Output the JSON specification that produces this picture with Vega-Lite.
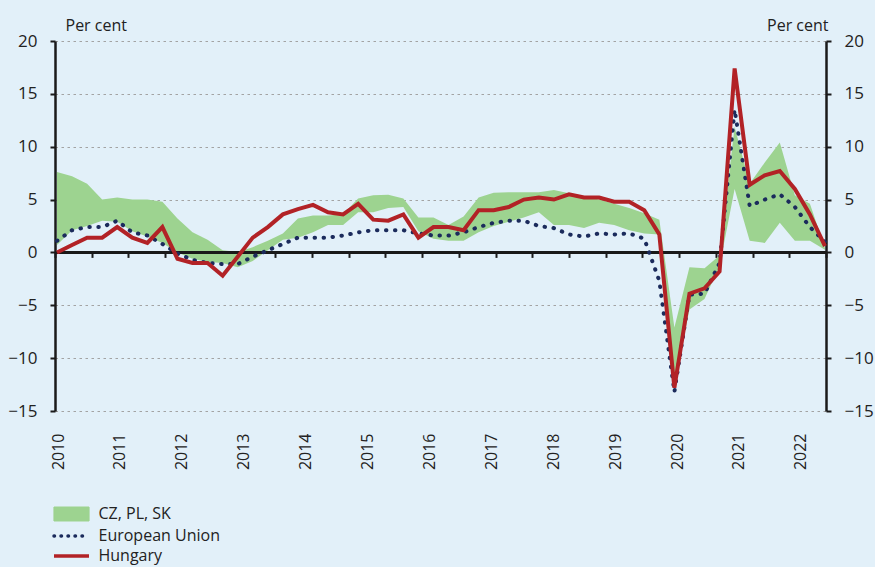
{
  "$schema": "https://vega.github.io/schema/vega-lite/v6.json",
  "width": 771,
  "height": 370,
  "autosize": {"type": "none"},
  "padding": {"left": 55, "top": 41, "right": 49, "bottom": 156},
  "background": "#e2f0f9",
  "config": {"view": {"stroke": null}, "font": "Open Sans"},
  "data": {"values": [
    {"t": 2010.00, "lo": 0.7, "hi": 7.6, "eu": 1.1, "hu": 0.0},
    {"t": 2010.25, "lo": 2.1, "hi": 7.2, "eu": 2.1, "hu": 0.7},
    {"t": 2010.50, "lo": 2.5, "hi": 6.5, "eu": 2.4, "hu": 1.4},
    {"t": 2010.75, "lo": 3.0, "hi": 5.0, "eu": 2.4, "hu": 1.4},
    {"t": 2011.00, "lo": 2.9, "hi": 5.2, "eu": 3.0, "hu": 2.4},
    {"t": 2011.25, "lo": 2.0, "hi": 5.0, "eu": 1.9, "hu": 1.4},
    {"t": 2011.50, "lo": 1.5, "hi": 5.0, "eu": 1.6, "hu": 0.9},
    {"t": 2011.75, "lo": 0.9, "hi": 4.8, "eu": 0.8, "hu": 2.4},
    {"t": 2012.00, "lo": 0.0, "hi": 3.2, "eu": -0.1, "hu": -0.6},
    {"t": 2012.25, "lo": -0.6, "hi": 1.9, "eu": -0.7, "hu": -1.0},
    {"t": 2012.50, "lo": -0.9, "hi": 1.2, "eu": -1.0, "hu": -1.0},
    {"t": 2012.75, "lo": -1.0, "hi": 0.2, "eu": -1.1, "hu": -2.2},
    {"t": 2013.00, "lo": -1.4, "hi": 0.05, "eu": -1.1, "hu": -0.4},
    {"t": 2013.25, "lo": -0.8, "hi": 0.5, "eu": -0.4, "hu": 1.4},
    {"t": 2013.50, "lo": 0.2, "hi": 1.1, "eu": 0.2, "hu": 2.4},
    {"t": 2013.75, "lo": 1.2, "hi": 1.8, "eu": 0.8, "hu": 3.6},
    {"t": 2014.00, "lo": 1.4, "hi": 3.2, "eu": 1.4, "hu": 4.1},
    {"t": 2014.25, "lo": 1.9, "hi": 3.5, "eu": 1.4, "hu": 4.5},
    {"t": 2014.50, "lo": 2.6, "hi": 3.5, "eu": 1.4, "hu": 3.8},
    {"t": 2014.75, "lo": 2.6, "hi": 3.6, "eu": 1.6, "hu": 3.6},
    {"t": 2015.00, "lo": 3.8, "hi": 5.1, "eu": 1.9, "hu": 4.6},
    {"t": 2015.25, "lo": 3.8, "hi": 5.4, "eu": 2.1, "hu": 3.1},
    {"t": 2015.50, "lo": 4.2, "hi": 5.45, "eu": 2.1, "hu": 3.0},
    {"t": 2015.75, "lo": 4.3, "hi": 5.1, "eu": 2.1, "hu": 3.6},
    {"t": 2016.00, "lo": 2.0, "hi": 3.3, "eu": 1.8, "hu": 1.4},
    {"t": 2016.25, "lo": 1.3, "hi": 3.3, "eu": 1.6, "hu": 2.4},
    {"t": 2016.50, "lo": 1.1, "hi": 2.6, "eu": 1.6, "hu": 2.4},
    {"t": 2016.75, "lo": 1.1, "hi": 3.4, "eu": 1.9, "hu": 2.1},
    {"t": 2017.00, "lo": 1.9, "hi": 5.2, "eu": 2.4, "hu": 4.0},
    {"t": 2017.25, "lo": 2.5, "hi": 5.65, "eu": 2.8, "hu": 4.0},
    {"t": 2017.50, "lo": 2.9, "hi": 5.7, "eu": 3.0, "hu": 4.3},
    {"t": 2017.75, "lo": 3.3, "hi": 5.7, "eu": 3.0, "hu": 5.0},
    {"t": 2018.00, "lo": 3.8, "hi": 5.7, "eu": 2.5, "hu": 5.2},
    {"t": 2018.25, "lo": 2.6, "hi": 5.9, "eu": 2.3, "hu": 5.0},
    {"t": 2018.50, "lo": 2.6, "hi": 5.6, "eu": 1.7, "hu": 5.5},
    {"t": 2018.75, "lo": 2.3, "hi": 5.3, "eu": 1.5, "hu": 5.2},
    {"t": 2019.00, "lo": 2.8, "hi": 5.0, "eu": 1.8, "hu": 5.2},
    {"t": 2019.25, "lo": 2.6, "hi": 4.6, "eu": 1.7, "hu": 4.8},
    {"t": 2019.50, "lo": 2.1, "hi": 4.2, "eu": 1.8, "hu": 4.8},
    {"t": 2019.75, "lo": 1.8, "hi": 3.7, "eu": 1.3, "hu": 4.0},
    {"t": 2020.00, "lo": 1.7, "hi": 3.1, "eu": -2.7, "hu": 1.7},
    {"t": 2020.25, "lo": -12.5, "hi": -7.1, "eu": -13.2, "hu": -12.8},
    {"t": 2020.50, "lo": -5.4, "hi": -1.4, "eu": -4.0, "hu": -3.9},
    {"t": 2020.75, "lo": -4.4, "hi": -1.5, "eu": -3.9, "hu": -3.4},
    {"t": 2021.00, "lo": -1.3, "hi": -0.3, "eu": -1.0, "hu": -1.8},
    {"t": 2021.25, "lo": 6.0, "hi": 11.9, "eu": 13.5, "hu": 17.4},
    {"t": 2021.50, "lo": 1.1, "hi": 6.5, "eu": 4.4, "hu": 6.4},
    {"t": 2021.75, "lo": 0.9, "hi": 8.5, "eu": 5.0, "hu": 7.3},
    {"t": 2022.00, "lo": 2.8, "hi": 10.4, "eu": 5.5, "hu": 7.7},
    {"t": 2022.25, "lo": 1.1, "hi": 5.4, "eu": 4.3, "hu": 6.0},
    {"t": 2022.50, "lo": 1.1, "hi": 4.6, "eu": 2.4, "hu": 3.6},
    {"t": 2022.75, "lo": 0.25, "hi": 0.4, "eu": 1.0, "hu": 0.6}
  ]},
  "layer": [
    {
      "mark": {"type": "area", "opacity": 1},
      "encoding": {
        "x": {"field": "t", "type": "quantitative",
          "scale": {"domain": [2009.967, 2022.767], "nice": false, "zero": false},
          "axis": {"orient": "bottom", "title": null, "grid": false, "domain": false, "ticks": false,
            "values": [2010.017, 2011.045, 2012.072, 2013.1, 2014.128, 2015.155, 2016.183, 2017.211, 2018.239, 2019.266, 2020.294, 2021.322, 2022.35],
            "labelExpr": "floor(datum.value)", "labelAngle": 270, "labelAlign": "right", "labelBaseline": "middle",
            "labelPadding": 22, "labelFontSize": 16, "labelColor": "#222222", "labelFlush": false, "labelOverlap": false}},
        "y": {"field": "lo", "type": "quantitative",
          "scale": {"domain": [-15, 20], "nice": false, "zero": false},
          "axis": {"orient": "left", "values": [-15, -10, -5, 0, 5, 10, 15, 20],
            "grid": true, "gridColor": "#a3a3a3", "gridDash": [2.5, 3.5], "gridWidth": 1,
            "domainColor": "#1a1a1a", "domainWidth": 2.5, "tickColor": "#1a1a1a", "tickWidth": 2, "tickSize": 5,
            "labelFontSize": 17, "labelPadding": 13, "labelColor": "#222222",
            "title": "Per cent", "titleAngle": 0, "titleAlign": "left", "titleBaseline": "alphabetic",
            "titleX": 10, "titleY": -11, "titleFontSize": 16, "titleFontWeight": "normal", "titleColor": "#222222"}},
        "y2": {"field": "hi"},
        "color": {"datum": "CZ, PL, SK", "type": "nominal",
          "scale": {"domain": ["CZ, PL, SK", "European Union", "Hungary"], "range": ["#9dd390", "#1b2b5c", "#b22226"]},
          "legend": {"orient": "none", "legendX": 8.5, "legendY": 465, "title": null, "direction": "vertical",
            "padding": 0, "labelFontSize": 16, "labelColor": "#222222", "labelOffset": 19, "rowPadding": 4,
            "symbolSize": 196,
            "encode": {"symbols": {"update": {
              "shape": {"signal": "datum.value === 'CZ, PL, SK' ? 'M-2.5,-1H2.5V1H-2.5Z' : 'M-2.5,0H2.5'"},
              "size": {"value": 196},
              "fill": {"signal": "datum.value === 'CZ, PL, SK' ? '#9dd390' : 'transparent'"},
              "stroke": {"signal": "datum.value === 'CZ, PL, SK' ? '#333333' : (datum.value === 'European Union' ? '#1b2b5c' : '#b22226')"},
              "strokeWidth": {"signal": "datum.value === 'CZ, PL, SK' ? 1.2 : 3.5"},
              "strokeDash": {"signal": "datum.value === 'European Union' ? [0.5, 6.5] : [1, 0]"},
              "strokeCap": {"signal": "datum.value === 'European Union' ? 'round' : 'butt'"},
              "opacity": {"value": 1}
            }}}}}
      }
    },
    {
      "mark": {"type": "rule", "color": "#1a1a1a", "strokeWidth": 2.5},
      "encoding": {"y": {"datum": 0, "type": "quantitative", "scale": {"domain": [-15, 20], "nice": false, "zero": false}, "axis": null}}
    },
    {
      "mark": {"type": "line", "strokeWidth": 4, "strokeDash": [0.5, 8.5], "strokeCap": "round"},
      "encoding": {
        "x": {"field": "t", "type": "quantitative",
          "scale": {"domain": [2009.967, 2022.767], "nice": false, "zero": false},
          "axis": {"orient": "bottom", "offset": -158.6, "title": null, "grid": false, "domain": false, "labels": false,
            "ticks": true, "tickSize": 5, "tickWidth": 2, "tickColor": "#1a1a1a",
            "values": [2009.967, 2010.5765, 2011.186, 2011.7956, 2012.4051, 2013.0146, 2013.6241, 2014.2337, 2014.8432, 2015.4527, 2016.0622, 2016.6718, 2017.2813, 2017.8908, 2018.5003, 2019.1099, 2019.7194, 2020.3289, 2020.9384, 2021.548, 2022.1575, 2022.767]}},
        "y": {"field": "eu", "type": "quantitative",
          "scale": {"domain": [-15, 20], "nice": false, "zero": false},
          "axis": {"orient": "right", "values": [-15, -10, -5, 0, 5, 10, 15, 20], "grid": false,
            "domainColor": "#1a1a1a", "domainWidth": 2.5, "tickColor": "#1a1a1a", "tickWidth": 2, "tickSize": 5,
            "labelFontSize": 17, "labelPadding": 13, "labelColor": "#222222",
            "title": "Per cent", "titleAngle": 0, "titleAlign": "right", "titleBaseline": "alphabetic",
            "titleX": 2, "titleY": -11, "titleFontSize": 16, "titleFontWeight": "normal", "titleColor": "#222222"}},
        "color": {"datum": "European Union", "type": "nominal",
          "legend": {"orient": "none", "legendX": 8.5, "legendY": 465, "title": null, "direction": "vertical",
            "padding": 0, "labelFontSize": 16, "labelColor": "#222222", "labelOffset": 19, "rowPadding": 4,
            "symbolSize": 196,
            "encode": {"symbols": {"update": {
              "shape": {"signal": "datum.value === 'CZ, PL, SK' ? 'M-2.5,-1H2.5V1H-2.5Z' : 'M-2.5,0H2.5'"},
              "size": {"value": 196},
              "fill": {"signal": "datum.value === 'CZ, PL, SK' ? '#9dd390' : 'transparent'"},
              "stroke": {"signal": "datum.value === 'CZ, PL, SK' ? '#333333' : (datum.value === 'European Union' ? '#1b2b5c' : '#b22226')"},
              "strokeWidth": {"signal": "datum.value === 'CZ, PL, SK' ? 1.2 : 3.5"},
              "strokeDash": {"signal": "datum.value === 'European Union' ? [0.5, 6.5] : [1, 0]"},
              "strokeCap": {"signal": "datum.value === 'European Union' ? 'round' : 'butt'"},
              "opacity": {"value": 1}
            }}}}}
      }
    },
    {
      "mark": {"type": "line", "strokeWidth": 4, "strokeJoin": "miter"},
      "encoding": {
        "x": {"field": "t", "type": "quantitative", "scale": {"domain": [2009.967, 2022.767], "nice": false, "zero": false}, "axis": null},
        "y": {"field": "hu", "type": "quantitative", "scale": {"domain": [-15, 20], "nice": false, "zero": false}, "axis": null},
        "color": {"datum": "Hungary", "type": "nominal",
          "legend": {"orient": "none", "legendX": 8.5, "legendY": 465, "title": null, "direction": "vertical",
            "padding": 0, "labelFontSize": 16, "labelColor": "#222222", "labelOffset": 19, "rowPadding": 4,
            "symbolSize": 196,
            "encode": {"symbols": {"update": {
              "shape": {"signal": "datum.value === 'CZ, PL, SK' ? 'M-2.5,-1H2.5V1H-2.5Z' : 'M-2.5,0H2.5'"},
              "size": {"value": 196},
              "fill": {"signal": "datum.value === 'CZ, PL, SK' ? '#9dd390' : 'transparent'"},
              "stroke": {"signal": "datum.value === 'CZ, PL, SK' ? '#333333' : (datum.value === 'European Union' ? '#1b2b5c' : '#b22226')"},
              "strokeWidth": {"signal": "datum.value === 'CZ, PL, SK' ? 1.2 : 3.5"},
              "strokeDash": {"signal": "datum.value === 'European Union' ? [0.5, 6.5] : [1, 0]"},
              "strokeCap": {"signal": "datum.value === 'European Union' ? 'round' : 'butt'"},
              "opacity": {"value": 1}
            }}}}}
      }
    }
  ],
  "resolve": {"axis": {"x": "independent", "y": "independent"}}
}
